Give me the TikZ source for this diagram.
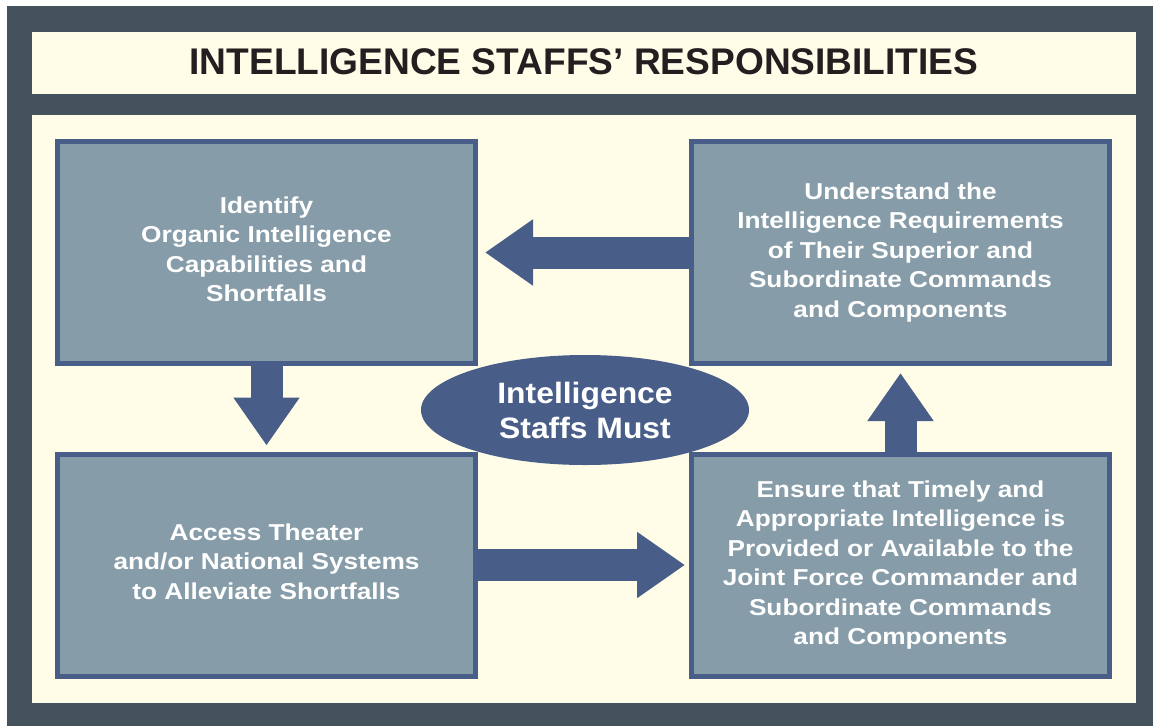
\documentclass[tikz,border=0pt]{standalone}
\usepackage{fontspec}
\setmainfont{Liberation Sans}
\newfontfamily\boxfont{Liberation Sans}[FakeStretch=1.14]
\newfontfamily\ovalfont{Liberation Sans}[FakeStretch=1.08]
\usetikzlibrary{shapes,arrows.meta}
\definecolor{frame}{HTML}{44525B}
\definecolor{cream}{HTML}{FFFDE8}
\definecolor{steel}{HTML}{869CA8}
\definecolor{navy}{HTML}{485E88}
\definecolor{ink}{HTML}{231F20}

\begin{document}
\begin{tikzpicture}[x=1pt,y=-1pt,
  box/.style={rectangle, draw=navy, line width=5pt, fill=steel, outer sep=2.5pt,
    minimum width=418pt, minimum height=222pt, align=center, text=white,
    font=\boxfont\bfseries\fontsize{23}{29.5}\selectfont},
  fat/.style={navy, line width=32pt, -{Triangle[length=48pt,width=63pt]}}]
\useasboundingbox (0,0) rectangle (1153,726);
\fill[white] (0,0) rectangle (1153,726);
\fill[frame] (7,6) rectangle (1153,726);
\fill[cream] (32,32) rectangle (1136,94);
\fill[cream] (32,115) rectangle (1136,703);
\node[text=ink, font=\bfseries\fontsize{37.1}{44}\selectfont] (ttl) at (584,62) {INTELLIGENCE STAFFS’ RESPONSIBILITIES};

\node[box, text depth=7pt] (idf) at (266.5,252.5) {Identify\\Organic Intelligence\\Capabilities and\\Shortfalls};
\node[box] (und) at (900.5,252.5) {Understand the\\Intelligence Requirements\\of Their Superior and\\Subordinate Commands\\and Components};
\node[box, text depth=7pt] (acc) at (266.5,565) {Access Theater\\and/or National Systems\\to Alleviate Shortfalls};
\node[box] (ens) at (900.5,565) {Ensure that Timely and\\Appropriate Intelligence is\\Provided or Available to the\\Joint Force Commander and\\Subordinate Commands\\and Components};

\draw[fat, shorten >=7pt] (und) -- (idf);
\draw[fat, shorten >=6pt] (idf) -- (acc);
\draw[fat, shorten >=4pt] (acc) -- (ens);
\draw[fat, shorten >=7pt] (ens) -- (und);

\node[ellipse, fill=navy, minimum width=328pt, minimum height=110pt, inner sep=0pt, text=white, align=center,
  font=\ovalfont\bfseries\fontsize{29.5}{35}\selectfont] (isn) at (585,410) {Intelligence\\Staffs Must};
\end{tikzpicture}
\end{document}
